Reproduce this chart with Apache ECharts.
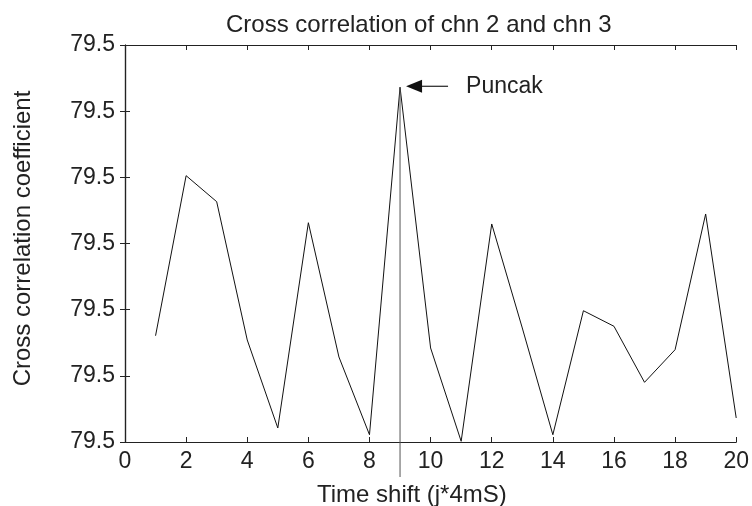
<!DOCTYPE html>
<html>
<head>
<meta charset="utf-8">
<script src="https://cdn.jsdelivr.net/npm/echarts@6/dist/echarts.min.js"></script>
<style>
html,body{margin:0;padding:0;background:#fff;}
#c{width:752px;height:506px;}
</style>
</head>
<body>
<div id="c"></div>
<script>
const timeShift = [1,2,3,4,5,6,7,8,9,10,11,12,13,14,15,16,17,18,19,20];
const coeff = [79.48606,79.51025,79.50632,79.48542,79.47212,79.50314,79.48285,79.47110,79.52361,79.48421,
               79.47011,79.50295,79.48723,79.47110,79.48984,79.48749,79.47902,79.48395,79.50446,79.47363];
const peakIndex = 8;
const peakLabel = 'Puncak';
const titleText = 'Cross correlation of chn 2 and chn 3';
const xName = 'Time shift (j*4mS)';
const yName = 'Cross correlation coefficient';

const FONT = 'Liberation Sans, Arial, Helvetica, sans-serif';
const chart = echarts.init(document.getElementById('c'), null, {renderer:'canvas'});
const axisLine = {show:true, lineStyle:{color:'#222', width:1.2}};
const tick = {show:true, inside:true, length:5, lineStyle:{color:'#222', width:1}};
const label = {color:'#222', fontSize:23, fontFamily:FONT};
const fmt = v => Number(v).toFixed(1);

const option = {
  animation:false,
  backgroundColor:'#fff',
  title:[
    {text:titleText, left:226, top:13, padding:0, textStyle:{fontSize:24, fontWeight:'normal', color:'#222', fontFamily:FONT}},
    {text:xName, left:317, top:483, padding:0, textStyle:{fontSize:24, fontWeight:'normal', color:'#222', fontFamily:FONT}}
  ],
  grid:{left:125, right:13, top:45, bottom:64, containLabel:false},
  xAxis:[
    {type:'value', min:0, max:20, interval:2, position:'bottom',
     axisLine:axisLine, axisTick:tick, splitLine:{show:false},
     axisLabel:Object.assign({margin:8}, label)},
    {type:'value', min:0, max:20, interval:2, position:'top',
     axisLine:axisLine, axisTick:tick, splitLine:{show:false}, axisLabel:{show:false}}
  ],
  yAxis:[
    {type:'value', min:79.47, max:79.53, interval:0.01, position:'left',
     axisLine:axisLine, axisTick:tick, splitLine:{show:false},
     axisLabel:Object.assign({margin:10, formatter:fmt}, label),
     name:yName, nameLocation:'middle', nameGap:90, nameRotate:90,
     nameTextStyle:{fontSize:24, color:'#222', fontFamily:FONT, padding:[0,0,0,10]}},
    {type:'value', min:79.47, max:79.53, interval:0.01, position:'right',
     axisLine:axisLine, axisTick:tick, splitLine:{show:false}, axisLabel:{show:false}}
  ],
  series:[{
    type:'line',
    data: timeShift.map((x,i)=>[x, coeff[i]]),
    symbol:'none',
    lineStyle:{color:'#111', width:1},
    clip:true
  }]
};
chart.setOption(option);

const p = chart.convertToPixel({xAxisIndex:0, yAxisIndex:0}, [timeShift[peakIndex], coeff[peakIndex]]);
const base = chart.convertToPixel({xAxisIndex:0, yAxisIndex:0}, [timeShift[peakIndex], 79.47]);
const tipX = p[0] + 6, tipY = p[1] - 1;
chart.setOption({
  graphic:[
    {type:'line', shape:{x1:p[0], y1:p[1], x2:p[0], y2:base[1] + 35}, style:{stroke:'#555', lineWidth:1}, z:10},
    {type:'line', shape:{x1:tipX + 14, y1:tipY, x2:tipX + 42, y2:tipY}, style:{stroke:'#222', lineWidth:1.2}, z:10},
    {type:'polygon', shape:{points:[[tipX, tipY],[tipX + 16, tipY - 6.5],[tipX + 16, tipY + 6.5]]}, style:{fill:'#111'}, z:10},
    {type:'text', x:tipX + 60, y:tipY, style:{text:peakLabel, fontSize:23, fill:'#222', fontFamily:FONT, verticalAlign:'middle', align:'left'}, z:10}
  ]
});
</script>
</body>
</html>
